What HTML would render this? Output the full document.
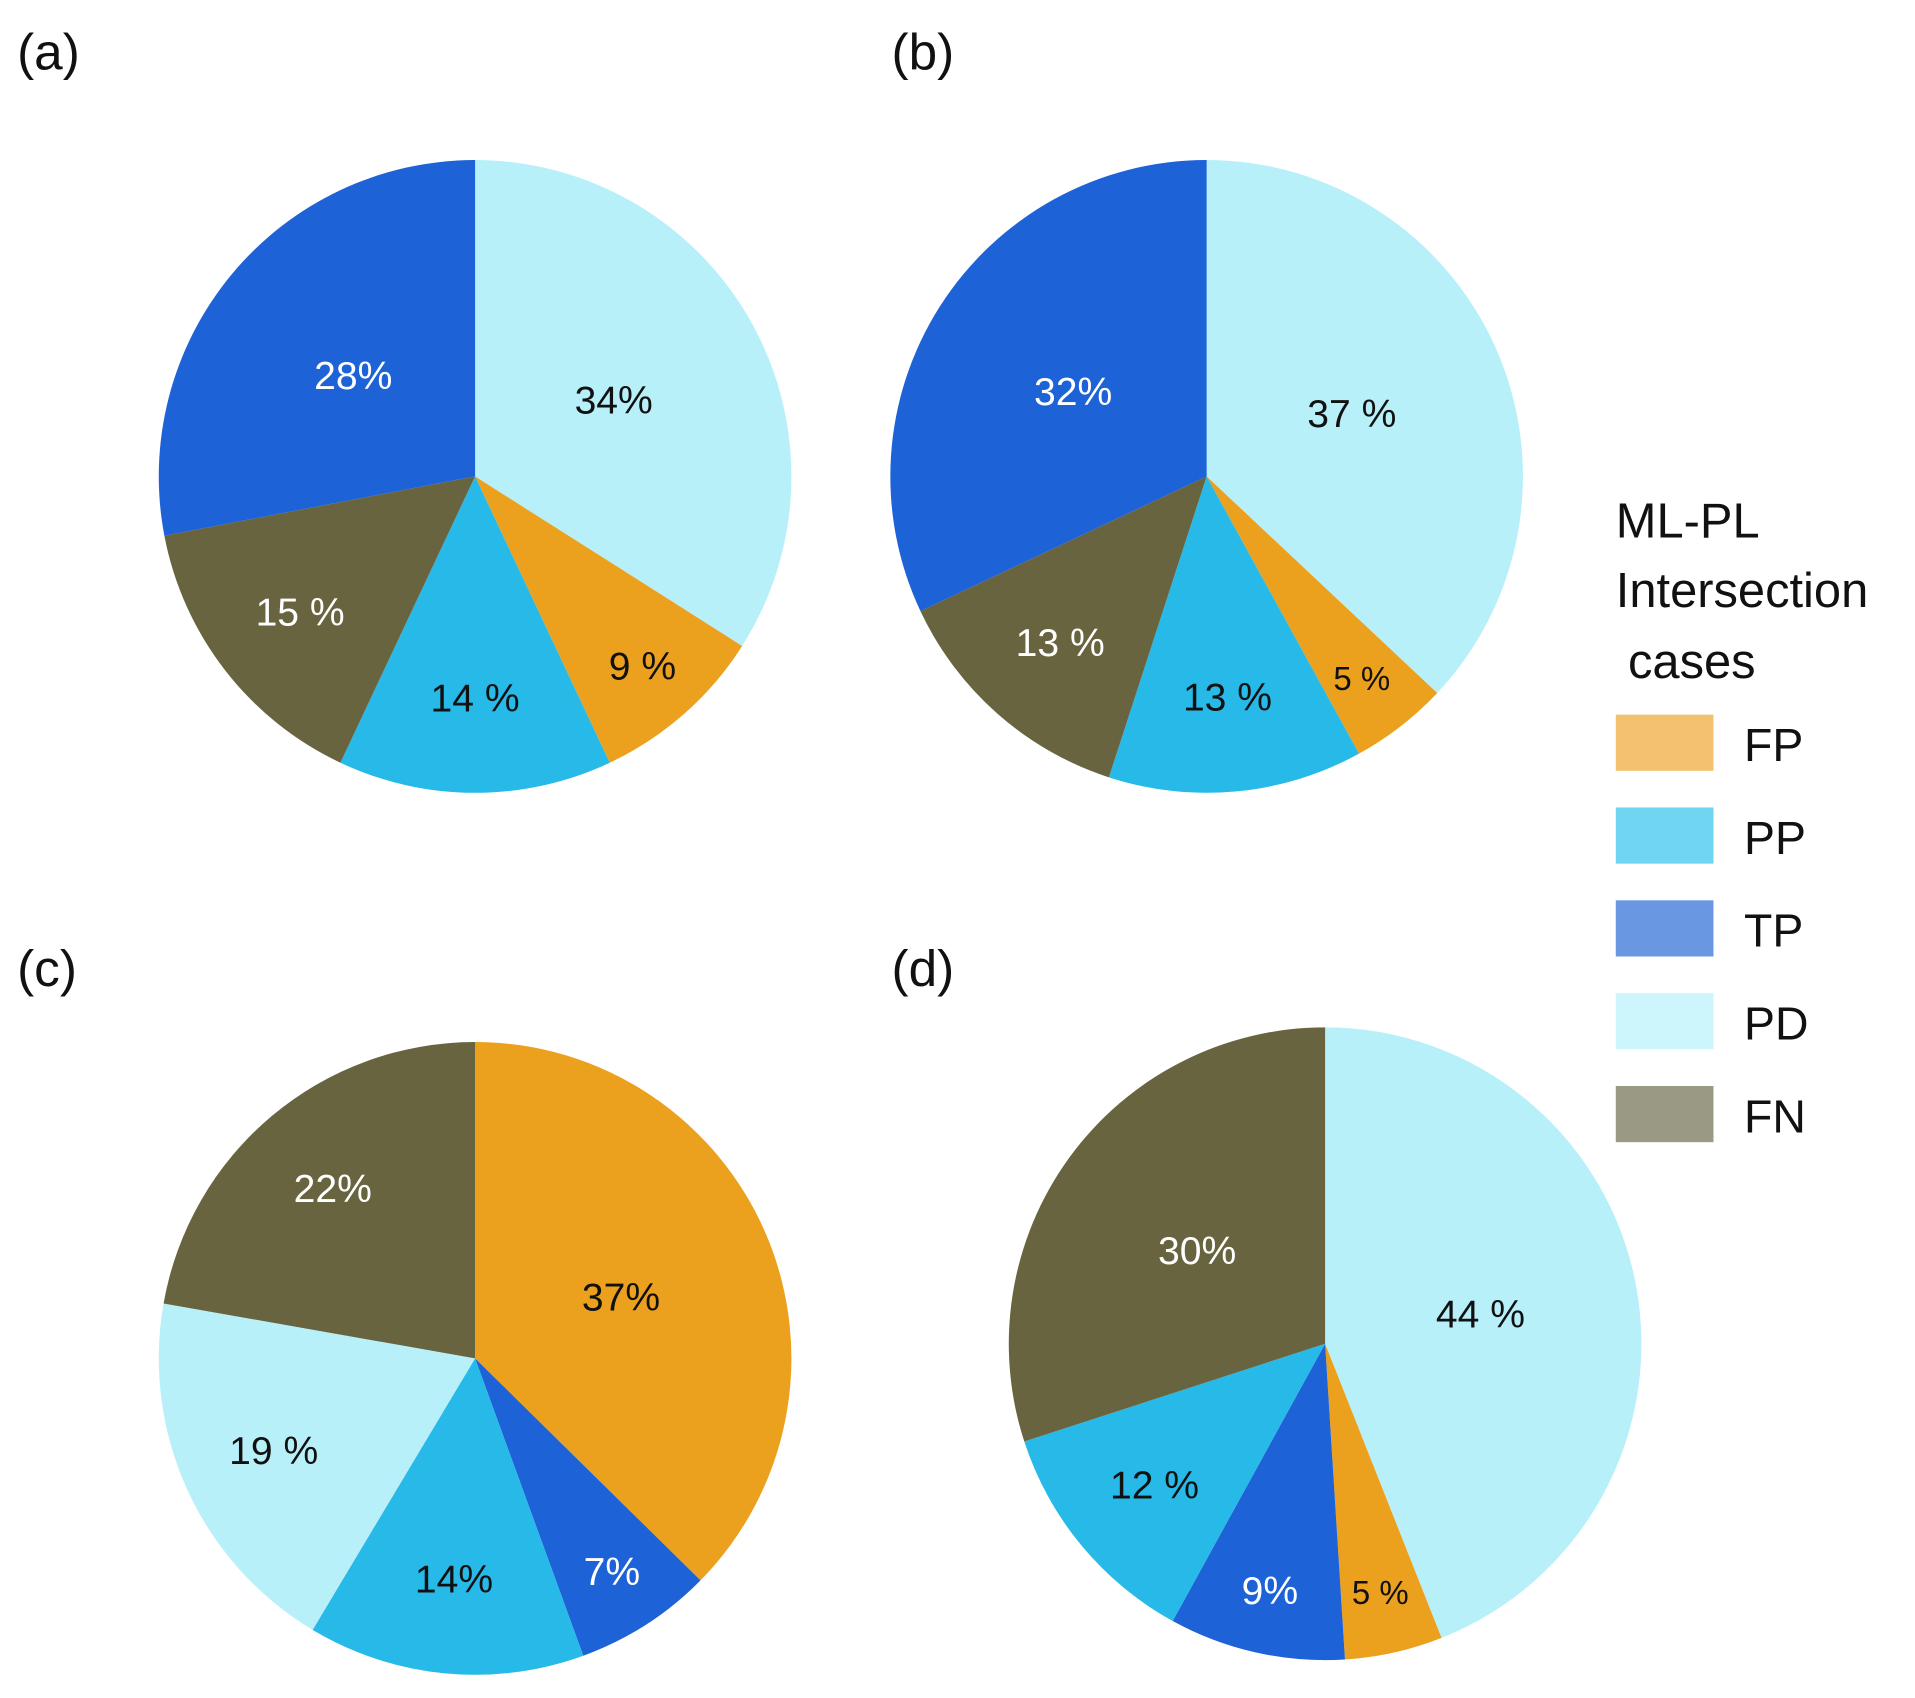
<!DOCTYPE html>
<html><head><meta charset="utf-8"><style>
html,body{margin:0;padding:0;background:#fff;}
svg{display:block;}
text{font-family:"Liberation Sans","DejaVu Sans",sans-serif;}
</style></head><body>
<svg id="chart" width="1915" height="1698" viewBox="0 0 1568 1390" preserveAspectRatio="none" xmlns="http://www.w3.org/2000/svg">
<g id="pies"></g>
<g>
<text x="1323" y="440" font-size="40" fill="#111">ML-PL</text>
<text x="1323" y="497" font-size="40" fill="#111">Intersection</text>
<text x="1333" y="555" font-size="40" fill="#111">cases</text>
<g id="legend-items"></g>
</g>
</svg>
<script>
const categories = ["FP","PP","TP","PD","FN"];
const sliceColors = {FP:"#eca11e",PP:"#27b9e8",TP:"#1d62d6",PD:"#b8f0fa",FN:"#686440"};
const legendColors = {FP:"#f3c170",PP:"#6fd5f1",TP:"#6a97e2",PD:"#cdf5fc",FN:"#9a9a84"};
const textColors = {FP:"#111",PP:"#111",TP:"#fff",PD:"#111",FN:"#fff"};
const panelNames = ["(a)","(b)","(c)","(d)"];
// slice order clockwise from 12 o'clock
const orderA = ["PD","FP","PP","FN","TP"], valuesA = [34,9,14,15,28], labelsA = ["34%","9 %","14 %","15 %","28%"];
const orderB = ["PD","FP","PP","FN","TP"], valuesB = [37,5,13,13,32], labelsB = ["37 %","5 %","13 %","13 %","32%"];
const orderC = ["FP","TP","PP","PD","FN"], valuesC = [37,7,14,19,22], labelsC = ["37%","7%","14%","19 %","22%"];
const orderD = ["PD","FP","TP","PP","FN"], valuesD = [44,5,9,12,30], labelsD = ["44 %","5 %","9%","12 %","30%"];

const NS="http://www.w3.org/2000/svg";
const layouts=[{cx:389,cy:390,r:259,lx:14,ly:57},{cx:988,cy:390,r:259,lx:730,ly:57},{cx:389,cy:1112,r:259,lx:14,ly:807},{cx:1085,cy:1100,r:259,lx:730,ly:807}];
const datasets=[[orderA,valuesA,labelsA],[orderB,valuesB,labelsB],[orderC,valuesC,labelsC],[orderD,valuesD,labelsD]];
const pies=document.getElementById('pies');
function pt(cx,cy,r,a){return [cx+r*Math.sin(a),cy-r*Math.cos(a)];}
datasets.forEach((ds,i)=>{
  const [order,vals,labs]=ds, L=layouts[i];
  const g=document.createElementNS(NS,'g');
  
  
  pies.appendChild(g);
  const t=document.createElementNS(NS,'text');
  t.setAttribute('x',L.lx);t.setAttribute('y',L.ly);t.setAttribute('font-size','42');t.setAttribute('fill','#111');
  t.textContent=panelNames[i];
  
  
  g.appendChild(t);
  const total=vals.reduce((a,b)=>a+b,0);
  let acc=0;
  vals.forEach((v,j)=>{
    const a0=acc/total*2*Math.PI; acc+=v; const a1=acc/total*2*Math.PI;
    const p0=pt(L.cx,L.cy,L.r,a0),p1=pt(L.cx,L.cy,L.r,a1);
    const large=(a1-a0)>Math.PI?1:0;
    const path=document.createElementNS(NS,'path');
    path.setAttribute('d',`M${L.cx},${L.cy}L${p0[0]},${p0[1]}A${L.r},${L.r} 0 ${large} 1 ${p1[0]},${p1[1]}Z`);
    path.setAttribute('fill',sliceColors[order[j]]);
    
    
    g.appendChild(path);
    const f = v>=25?0.5:(v<10?0.8:0.7);
    const am=(a0+a1)/2, lp=pt(L.cx,L.cy,L.r*f,am);
    const tx=document.createElementNS(NS,'text');
    tx.setAttribute('x',lp[0]);tx.setAttribute('y',lp[1]+11);
    tx.setAttribute('text-anchor','middle');
    tx.setAttribute('font-size',v<7?'27':'32');
    tx.setAttribute('fill',textColors[order[j]]);
    tx.textContent=labs[j];
    
    
    g.appendChild(tx);
  });
});
const li=document.getElementById('legend-items');
categories.forEach((c,k)=>{
  const y=585+k*76;
  const r=document.createElementNS(NS,'rect');
  r.setAttribute('x',1323);r.setAttribute('y',y);r.setAttribute('width',80);r.setAttribute('height',46);
  r.setAttribute('fill',legendColors[c]);
  
  
  li.appendChild(r);
  const t=document.createElementNS(NS,'text');
  t.setAttribute('x',1428);t.setAttribute('y',y+38);t.setAttribute('font-size','38');t.setAttribute('fill','#111');
  t.textContent=c;
  
  
  li.appendChild(t);
});
</script>
</body></html>
